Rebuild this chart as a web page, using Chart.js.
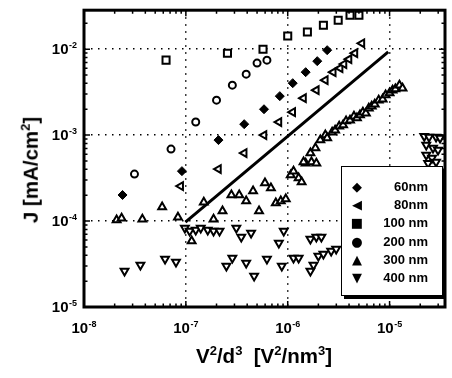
<!DOCTYPE html>
<html>
<head>
<meta charset="utf-8">
<script src="https://cdn.jsdelivr.net/npm/chart.js@4.4.1/dist/chart.umd.min.js"></script>
<style>
  body { margin: 0; background: #fff; }
  #wrap { position: relative; width: 452px; height: 378px; font-family: 'Liberation Sans', Arial, sans-serif; color: #000; }
  .title { position: absolute; font-weight: bold; font-size: 20.5px; white-space: nowrap; line-height: 1; }
  .title sup { font-size: 13px; line-height: 0; }
  #ytitle { left: 31px; top: 170px; transform: translate(-50%, -50%) rotate(-90deg); }
  #xtitle { left: 264px; top: 356px; transform: translate(-50%, -50%); }
  #legend { position: absolute; left: 341px; top: 166px; width: 102px; height: 130px; background: #fff;
            border: 1.5px solid #000; box-shadow: 3px 3px 0 #000; box-sizing: border-box; }
  .row { position: absolute; left: 0; right: 0; height: 18px; line-height: 18px; font-weight: bold; font-size: 13px; }
  .sym { position: absolute; left: 8px; width: 14px; text-align: center; font-family: 'DejaVu Sans', sans-serif; font-size: 13px; font-weight: normal; }
  .lab { position: absolute; right: 14px; }
</style>
</head>
<body>
<div id="wrap">
  <canvas id="jv"></canvas>
  <div class="title" id="ytitle">J [mA/cm<sup>2</sup>]</div>
  <div class="title" id="xtitle">V<sup>2</sup>/d<sup>3</sup>&nbsp; [V<sup>2</sup>/nm<sup>3</sup>]</div>
  <div id="legend"></div>
</div>
<script>
// Series labels and legend symbols
const seriesLabels = ['60nm', '80nm', '100 nm', '200 nm', '300 nm', '400 nm'];
const legendSymbols = ['\u25C6', '\u25C0', '\u25A0', '\u25CF', '\u25B2', '\u25BC'];

// Values (x = V^2/d^3, y = J)
const x60 = [2.39e-8, 9.15e-8, 2.09e-7, 3.74e-7, 5.85e-7, 8.36e-7, 1.12e-6, 1.50e-6, 1.95e-6, 2.44e-6];
const y60 = [2.01e-4, 3.81e-4, 8.75e-4, 1.34e-3, 2.0e-3, 2.84e-3, 4.02e-3, 5.4e-3, 7.25e-3, 9.73e-3];

const x80 = [8.9e-8, 2.09e-7, 3.74e-7, 5.85e-7, 8.2e-7, 1.12e-6, 1.43e-6, 1.91e-6, 2.34e-6, 2.8e-6, 3.27e-6, 3.57e-6, 4.0e-6, 4.57e-6, 5.35e-6];
const y80 = [2.55e-4, 4.03e-4, 6.18e-4, 1.0e-3, 1.42e-3, 1.85e-3, 2.69e-3, 3.33e-3, 4.36e-3, 5.4e-3, 6.0e-3, 6.7e-3, 7.65e-3, 8.98e-3, 1.17e-2];

const x100 = [6.39e-8, 2.56e-7, 5.72e-7, 1.0e-6, 1.56e-6, 2.24e-6, 3.13e-6, 4.09e-6, 5.0e-6];
const y100 = [7.45e-3, 8.98e-3, 1.0e-2, 1.42e-2, 1.58e-2, 1.90e-2, 2.17e-2, 2.48e-2, 2.48e-2];

const x200 = [3.13e-8, 7.15e-8, 1.25e-7, 2.0e-7, 2.86e-7, 3.91e-7, 5.0e-7, 6.25e-7];
const y200 = [3.52e-4, 6.88e-4, 1.42e-3, 2.55e-3, 3.81e-3, 5.12e-3, 6.88e-3, 7.45e-3];

const x300 = [2.09e-8, 2.34e-8, 3.74e-8, 5.85e-8, 8.36e-8, 1.14e-7, 1.50e-7, 1.87e-7, 2.29e-7, 2.80e-7,
              3.34e-7, 3.91e-7, 4.57e-7, 5.23e-7, 5.98e-7, 6.84e-7, 7.64e-7, 8.55e-7, 9.57e-7, 1.07e-6,
              1.14e-6, 1.28e-6, 1.37e-6, 1.50e-6, 1.71e-6, 1.91e-6,
              1.43e-6, 1.67e-6, 1.87e-6, 2.09e-6, 2.34e-6, 2.44e-6, 2.73e-6, 2.92e-6, 3.20e-6, 3.50e-6,
              3.74e-6, 4.09e-6, 4.47e-6, 4.78e-6, 5.12e-6, 5.47e-6, 5.85e-6, 6.25e-6, 6.68e-6, 7.15e-6,
              7.82e-6, 8.55e-6, 9.14e-6, 1.0e-5, 1.07e-5, 1.14e-5, 1.25e-5, 1.34e-5];
const y300 = [1.03e-4, 1.08e-4, 1.05e-4, 1.46e-4, 1.11e-4, 5.85e-5, 1.66e-4, 1.05e-4, 1.31e-4, 2.01e-4,
              2.01e-4, 1.71e-4, 2.23e-4, 1.31e-4, 2.77e-4, 2.42e-4, 1.62e-4, 1.71e-4, 1.80e-4, 3.43e-4,
              3.81e-4, 3.16e-4, 2.84e-4, 4.72e-4, 4.85e-4, 4.72e-4,
              4.85e-4, 6.18e-4, 7.06e-4, 8.75e-4, 1.0e-3, 9.23e-4, 1.08e-3, 1.14e-3, 1.27e-3, 1.31e-3,
              1.46e-3, 1.49e-3, 1.66e-3, 1.58e-3, 1.71e-3, 1.85e-3, 1.80e-3, 2.06e-3, 2.17e-3, 2.29e-3,
              2.55e-3, 2.62e-3, 2.92e-3, 3.08e-3, 3.33e-3, 3.43e-3, 3.81e-3, 3.52e-3];

const x400 = [2.50e-8, 3.58e-8, 6.25e-8, 8.0e-8, 9.78e-8, 1.09e-7, 1.25e-7, 1.40e-7, 1.64e-7, 1.87e-7,
              2.14e-7, 3.13e-7, 3.50e-7, 4.37e-7, 8.18e-7, 9.14e-7, 1.67e-6, 1.91e-6, 2.14e-6,
              2.50e-7, 2.86e-7, 3.91e-7, 4.68e-7, 6.25e-7, 8.75e-7, 1.14e-6, 1.28e-6, 1.67e-6, 1.79e-6,
              2.0e-6, 2.24e-6, 2.67e-6, 2.99e-6,
              2.19e-5, 2.44e-5, 2.86e-5, 3.13e-5, 2.29e-5, 2.67e-5, 2.99e-5, 2.29e-5, 2.61e-5, 2.86e-5, 2.39e-5];
const y400 = [2.62e-5, 3.08e-5, 3.61e-5, 3.33e-5, 8.29e-5, 7.65e-5, 7.86e-5, 8.29e-5, 7.86e-5, 7.65e-5,
              7.65e-5, 8.29e-5, 6.52e-5, 7.25e-5, 5.55e-5, 7.65e-5, 6.18e-5, 6.52e-5, 6.52e-5,
              3.0e-5, 3.71e-5, 3.25e-5, 2.29e-5, 3.61e-5, 3.0e-5, 3.71e-5, 3.71e-5, 2.62e-5, 3.08e-5,
              3.92e-5, 4.13e-5, 4.48e-5, 4.72e-5,
              9.73e-4, 9.48e-4, 9.48e-4, 9.23e-4, 7.65e-4, 7.06e-4, 6.70e-4, 5.85e-4, 5.40e-4, 4.85e-4, 4.72e-4];

// Straight guide line
const fitX = [9.9e-8, 9.7e-6];
const fitY = [9.7e-5, 9.3e-3];

// Axis ranges and decade tick labels (base 10, exponent as superscript)
const xRange = [1e-8, 3.5e-5];
const yRange = [1e-5, 2.84e-2];
const xTicks = [1e-8, 1e-7, 1e-6, 1e-5];
const xTickExps = ['-8', '-7', '-6', '-5'];
const yTicks = [1e-5, 1e-4, 1e-3, 1e-2];
const yTickExps = ['-5', '-4', '-3', '-2'];

const baseFont = "bold 15px 'Liberation Sans', Arial, sans-serif";
const expFont = "bold 9px 'Liberation Sans', Arial, sans-serif";

function pts(xs, ys) {
    return xs.map((x, i) => ({ x: x, y: ys[i] }));
}

function isDecade(v) {
    if (!v) return false;
    const l = Math.log10(v);
    return Math.abs(l - Math.round(l)) < 1e-6;
}

function isWholeStep(v) {
    const m = v / Math.pow(10, Math.floor(Math.log10(v) + 1e-9));
    return Math.abs(m - Math.round(m)) < 0.01;
}

// "10" with a raised exponent; anchor is the centre or the right end of the label
function drawPower(ctx, exp, x, baseline, align) {
    ctx.font = baseFont;
    const wBase = ctx.measureText('10').width;
    ctx.font = expFont;
    const wExp = ctx.measureText(exp).width;
    const total = wBase + 0.5 + wExp;
    const left = align === 'center' ? x - total / 2 : x - total;
    ctx.font = baseFont;
    ctx.fillText('10', left, baseline);
    ctx.font = expFont;
    ctx.fillText(exp, left + wBase + 0.5, baseline - 6);
}

// Thick frame, inward ticks on all four sides, power-of-ten labels
const framePlugin = {
    id: 'frame',
    afterDatasetsDraw(chart) {
        const { ctx, chartArea: a, scales } = chart;
        ctx.save();
        ctx.strokeStyle = '#000';
        ctx.lineWidth = 1.5;
        scales.x.ticks.forEach(t => {
            if (!isWholeStep(t.value)) return;
            const px = scales.x.getPixelForValue(t.value);
            const len = isDecade(t.value) ? 6 : 3.5;
            ctx.beginPath();
            ctx.moveTo(px, a.bottom); ctx.lineTo(px, a.bottom - len);
            ctx.moveTo(px, a.top); ctx.lineTo(px, a.top + len);
            ctx.stroke();
        });
        scales.y.ticks.forEach(t => {
            if (!isWholeStep(t.value)) return;
            const py = scales.y.getPixelForValue(t.value);
            const len = isDecade(t.value) ? 6 : 3.5;
            ctx.beginPath();
            ctx.moveTo(a.left, py); ctx.lineTo(a.left + len, py);
            ctx.moveTo(a.right, py); ctx.lineTo(a.right - len, py);
            ctx.stroke();
        });
        ctx.lineWidth = 3;
        ctx.strokeRect(a.left, a.top, a.right - a.left, a.bottom - a.top);

        ctx.fillStyle = '#000';
        ctx.textAlign = 'left';
        ctx.textBaseline = 'alphabetic';
        xTicks.forEach((v, i) => {
            drawPower(ctx, xTickExps[i], scales.x.getPixelForValue(v), a.bottom + 26, 'center');
        });
        yTicks.forEach((v, i) => {
            drawPower(ctx, yTickExps[i], a.left - 7, scales.y.getPixelForValue(v) + 5, 'right');
        });
        ctx.restore();
    }
};

const gridOpts = {
    color: (c) => (c.tick && isDecade(c.tick.value)) ? '#000' : 'rgba(0,0,0,0)',
    lineWidth: 1.5,
    drawTicks: false
};

const open = { backgroundColor: '#fff', borderColor: '#000', borderWidth: 2 };

new Chart(document.getElementById('jv'), {
    type: 'scatter',
    data: {
        datasets: [
            { label: seriesLabels[0], data: pts(x60, y60), pointStyle: 'rectRot', pointRadius: 4.5,
              backgroundColor: '#000', borderColor: '#000', borderWidth: 1 },
            { label: seriesLabels[1], data: pts(x80, y80), pointStyle: 'triangle', rotation: -90, pointRadius: 4.5, ...open },
            { label: seriesLabels[2], data: pts(x100, y100), pointStyle: 'rect', pointRadius: 5, ...open },
            { label: seriesLabels[3], data: pts(x200, y200), pointStyle: 'circle', pointRadius: 3.5, ...open },
            { label: seriesLabels[4], data: pts(x300, y300), pointStyle: 'triangle', pointRadius: 4.5, ...open },
            { label: seriesLabels[5], data: pts(x400, y400), pointStyle: 'triangle', rotation: 180, pointRadius: 4.5, ...open },
            { label: 'fit', data: pts(fitX, fitY), showLine: true, borderColor: '#000', borderWidth: 3,
              pointRadius: 0 }
        ]
    },
    options: {
        responsive: true,
        maintainAspectRatio: false,
        animation: false,
        events: [],
        layout: { padding: { left: 0, right: 3, top: 10, bottom: 0 } },
        scales: {
            x: {
                type: 'logarithmic',
                min: xRange[0], max: xRange[1],
                grid: gridOpts,
                border: { display: false, dash: [1.5, 5.5] },
                ticks: { autoSkip: false, maxRotation: 0, minRotation: 0, callback: () => '' },
                afterFit: (s) => { s.height = 71; }
            },
            y: {
                type: 'logarithmic',
                min: yRange[0], max: yRange[1],
                grid: gridOpts,
                border: { display: false, dash: [1.5, 5.5] },
                ticks: { autoSkip: false, callback: () => '' },
                afterFit: (s) => { s.width = 84; }
            }
        },
        plugins: {
            legend: { display: false },
            tooltip: { enabled: false }
        }
    },
    plugins: [framePlugin]
});

// Legend box inside the plot
const legend = document.getElementById('legend');
seriesLabels.forEach((name, i) => {
    const row = document.createElement('div');
    row.className = 'row';
    row.style.top = (11 + i * 18.2) + 'px';
    row.innerHTML = '<span class="sym">' + legendSymbols[i] + '</span><span class="lab">' + name + '</span>';
    legend.appendChild(row);
});
</script>
</body>
</html>
